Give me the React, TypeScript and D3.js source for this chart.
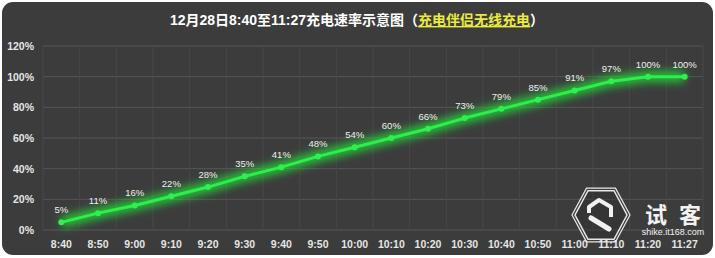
import React from "react";
import * as d3 from "d3";

const categories = ["8:40","8:50","9:00","9:10","9:20","9:30","9:40","9:50","10:00","10:10","10:20","10:30","10:40","10:50","11:00","11:10","11:20","11:27"];
const values = [5,11,16,22,28,35,41,48,54,60,66,73,79,85,91,97,100,100];
const yTicks = [0,20,40,60,80,100,120];
const titleMain = "12月28日8:40至11:27充电速率示意图（";
const titleHighlight = "充电伴侣无线充电";
const titleEnd = "）";

const W = 715, H = 258;
const margin = { left: 43, right: 12, top: 46, bottom: 28 };

export default function App() {
  const x = d3.scaleBand<string>().domain(categories).range([margin.left, W - margin.right]).paddingInner(0).paddingOuter(0);
  const y = d3.scaleLinear().domain([0, 120]).range([H - margin.bottom, margin.top]);
  const cx = (c: string) => (x(c) as number) + x.bandwidth() / 2;
  const line = d3.line<number>().x((_, i) => cx(categories[i])).y(d => y(d));
  const path = line(values) || "";
  const font = "'Liberation Sans', 'Noto Sans CJK SC', sans-serif";
  const hx = 601, hy = 215, hrx = 29, hry = 31;
  const hexPts = (k: number) => d3.range(6).map(i => {
    const a = Math.PI / 3 * i;
    return [hx + (hrx - k) * Math.cos(a), hy + (hry - k) * Math.sin(a)].join(",");
  }).join(" ");
  return (
    <svg width={W} height={H} style={{ position: "absolute", left: 0, top: 0, background: "#fff" }}>
      <defs>
        <filter id="glow" x="-10%" y="-30%" width="120%" height="160%">
          <feGaussianBlur stdDeviation="4" />
        </filter>
      </defs>
      <rect x={2} y={2} width={W - 4} height={H - 5} rx={11} fill="#3c3c3c" />
      {yTicks.map(t => (
        <line key={"h" + t} x1={margin.left} x2={W - margin.right} y1={y(t)} y2={y(t)} stroke="#565656" strokeWidth={1} />
      ))}
      {categories.map((c, i) => (
        <line key={"v" + i} x1={x(c) as number} x2={x(c) as number} y1={y(120)} y2={y(0)} stroke="#484848" strokeWidth={1} />
      ))}
      <line x1={W - margin.right} x2={W - margin.right} y1={y(120)} y2={y(0)} stroke="#484848" />
      {yTicks.map(t => (
        <text key={"yl" + t} x={34} y={y(t) + 4} textAnchor="end" fill="#e6e6e6" fontSize={10.5} fontWeight="bold" fontFamily={font}>{t}%</text>
      ))}
      {categories.map(c => (
        <text key={"xl" + c} x={cx(c)} y={248} textAnchor="middle" fill="#e6e6e6" fontSize={10.5} fontWeight="bold" fontFamily={font}>{c}</text>
      ))}
      <path d={path} fill="none" stroke="#1fe23a" strokeWidth={11} strokeOpacity={0.8} filter="url(#glow)" />
      <path d={path} fill="none" stroke="#2bf04a" strokeWidth={3} strokeLinejoin="round" />
      {values.map((v, i) => (
        <circle key={"p" + i} cx={cx(categories[i])} cy={y(v)} r={3} fill="#30f050" />
      ))}
      {values.map((v, i) => (
        <text key={"dl" + i} x={cx(categories[i])} y={y(v) - 9} textAnchor="middle" fill="#f0f0f0" fontSize={9.5} fontFamily={font}>{v}%</text>
      ))}
      <text x={357} y={25} textAnchor="middle" fontSize={14} fontWeight="bold" fontFamily={font} fill="#ffffff">
        <tspan>{titleMain}</tspan>
        <tspan fill="#eaea40" textDecoration="underline">{titleHighlight}</tspan>
        <tspan>{titleEnd}</tspan>
      </text>
      {/* watermark */}
      <polygon points={hexPts(0)} fill="none" stroke="#e8e8e8" strokeWidth={1.2} />
      <polygon points={hexPts(3)} fill="rgba(40,40,40,0.35)" stroke="#e8e8e8" strokeWidth={1.5} />
      <path d={`M${hx - 12},${hy - 2} L${hx - 12},${hy - 8} L${hx - 2},${hy - 15} L${hx + 10},${hy - 8} L${hx + 10},${hy + 2}`} fill="none" stroke="#f0f0f0" strokeWidth={4} strokeLinejoin="round" />
      <path d={`M${hx - 10},${hy + 3} L${hx + 8},${hy + 14}`} fill="none" stroke="#f0f0f0" strokeWidth={5} strokeLinecap="round" />
      <text x={656} y={223} textAnchor="middle" fill="#f2f2f2" fontSize={22} fontWeight="bold" fontFamily="'Noto Sans CJK SC', sans-serif">试</text>
      <text x={690} y={223} textAnchor="middle" fill="#f2f2f2" fontSize={22} fontWeight="bold" fontFamily="'Noto Sans CJK SC', sans-serif">客</text>
      <text x={673} y={235} textAnchor="middle" fill="#f2f2f2" fontSize={9} fontFamily={font}>shike.it168.com</text>
    </svg>
  );
}
